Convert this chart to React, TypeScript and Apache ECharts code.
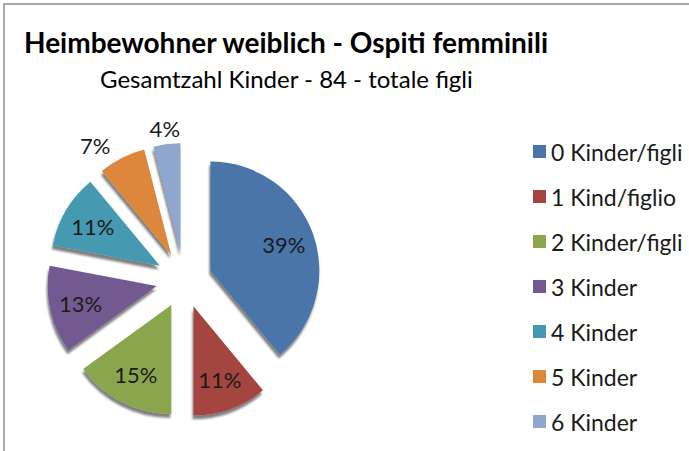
import React, { useEffect, useRef } from "react";
import * as echarts from "echarts";

const categories = ["0 Kinder/figli", "1 Kind/figlio", "2 Kinder/figli", "3 Kinder", "4 Kinder", "5 Kinder", "6 Kinder"];
const percentValues = [39, 11, 15, 13, 11, 7, 4];
const sliceColors = ["#4A74A8", "#A5443F", "#8AA64E", "#725A91", "#4499B0", "#DD873C", "#8FA7CF"];
const outsideLabelNames = ["5 Kinder"];
const farLabelNames = ["6 Kinder"];

const FONT = "Lato, 'Noto Sans', sans-serif";

export default function App() {
  const ref = useRef<HTMLDivElement>(null);
  useEffect(() => {
    if (!ref.current) return;
    const chart = echarts.init(ref.current, undefined, { renderer: "svg" });
    const center = [184, 280];
    const labelStyle = { color: "#1a1a1a", fontFamily: FONT, fontSize: 22 };

    const mainData = categories.map((name, i) => ({
      name,
      value: percentValues[i],
      selected: true,
      itemStyle: { color: sliceColors[i] },
      label: outsideLabelNames.includes(name)
        ? { show: true, position: "outside", ...labelStyle }
        : { show: false },
      labelLine: { show: false, length: 14, length2: 0 },
    }));
    const innerLabelData = categories.map((name, i) => ({
      name,
      value: percentValues[i],
      selected: true,
      itemStyle: { color: "rgba(0,0,0,0)" },
      label: { show: !outsideLabelNames.includes(name) && !farLabelNames.includes(name) },
    }));
    const farLabelData = categories.map((name, i) => ({
      name,
      value: percentValues[i],
      selected: true,
      itemStyle: { color: "rgba(0,0,0,0)" },
      label: { show: farLabelNames.includes(name) },
    }));

    chart.setOption({
      animation: false,
      graphic: [
        {
          type: "rect",
          shape: { x: 4, y: 4, width: 800, height: 600 },
          style: { fill: "none", stroke: "#a8a8a8", lineWidth: 2 },
          silent: true,
        },
      ],
      title: [
        {
          text: "Heimbewohner weiblich - Ospiti femminili",
          left: 19,
          top: 23,
          textStyle: { fontFamily: FONT, fontWeight: "bold", fontSize: 28, color: "#000" },
        },
        {
          text: "Gesamtzahl Kinder - 84 - totale figli",
          left: 95,
          top: 61,
          textStyle: { fontFamily: FONT, fontWeight: "normal", fontSize: 24, color: "#000" },
        },
      ],
      legend: {
        orient: "vertical",
        left: 528,
        top: 135,
        itemWidth: 13,
        itemHeight: 13,
        itemGap: 22,
        icon: "rect",
        selectedMode: false,
        data: categories.map((name, i) => ({ name, itemStyle: { color: sliceColors[i] } })),
        textStyle: { fontFamily: FONT, fontSize: 23, lineHeight: 23, color: "#1a1a1a" },
      },
      series: [
        {
          type: "pie",
          center,
          radius: 109,
          startAngle: 90,
          clockwise: true,
          selectedMode: "multiple",
          selectedOffset: 28,
          avoidLabelOverlap: false,
          silent: true,
          emphasis: { disabled: true },
          itemStyle: {
            shadowColor: "rgba(0,0,0,0.5)",
            shadowBlur: 2,
            shadowOffsetX: -1,
            shadowOffsetY: 4,
          },
          label: { formatter: "{c}%" },
          data: mainData,
        },
        {
          type: "pie",
          center,
          radius: 150,
          startAngle: 90,
          clockwise: true,
          selectedMode: "multiple",
          selectedOffset: 28,
          silent: true,
          emphasis: { disabled: true },
          label: { position: "inside", formatter: "{c}%", ...labelStyle },
          labelLine: { show: false },
          data: innerLabelData,
        },
        {
          type: "pie",
          center,
          radius: 244,
          startAngle: 90,
          clockwise: true,
          selectedMode: "multiple",
          selectedOffset: 28,
          silent: true,
          emphasis: { disabled: true },
          label: { position: "inside", formatter: "{c}%", ...labelStyle },
          labelLine: { show: false },
          data: farLabelData,
        },
      ],
    });
    return () => chart.dispose();
  }, []);
  return (
    <div
      ref={ref}
      style={{ position: "fixed", left: 0, top: 0, width: 689, height: 451, background: "#fff" }}
    />
  );
}
